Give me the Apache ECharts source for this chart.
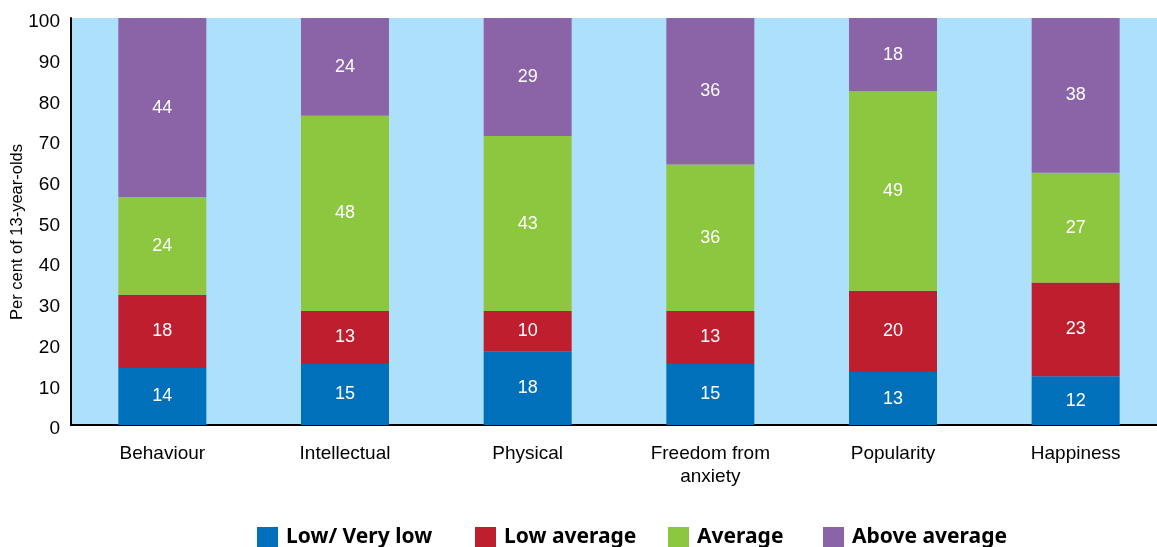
<!DOCTYPE html>
<html>
<head>
<meta charset="utf-8">
<script src="https://cdn.jsdelivr.net/npm/echarts@6/dist/echarts.min.js"></script>
<style>
  html, body { margin: 0; padding: 0; background: #fff; overflow: hidden; }
  /* plot runs a few pixels past the right edge of the picture */
  #box { width: 1167px; height: 547px; }
</style>
</head>
<body>
<div id="box"></div>
<script>
var categories = ['Behaviour', 'Intellectual', 'Physical', 'Freedom from\nanxiety', 'Popularity', 'Happiness']
var lowVeryLow = [14, 15, 18, 15, 13, 12]
var lowAverage = [18, 13, 10, 13, 20, 23]
var average = [24, 48, 43, 36, 49, 27]
var aboveAverage = [44, 24, 29, 36, 18, 38]
var seriesNames = ['Low/ Very low', 'Low average', 'Average', 'Above average']
var colors = ['#0070bb', '#be1e2d', '#8dc63f', '#8b64a8']

var chart = echarts.init(document.getElementById('box'))

function seg(i, data) {
    return {
        name: seriesNames[i],
        type: 'bar',
        stack: 'total',
        data: data,
        barWidth: 88,
        itemStyle: { color: colors[i] },
        label: {
            show: true,
            position: 'inside',
            color: '#fff',
            fontSize: 18,
            fontFamily: 'Liberation Sans'
        }
    }
}

// one legend per item so the gaps match the original
var legendLeft = [257, 475, 668, 823]
var legends = seriesNames.map(function (n, i) {
    return {
        left: legendLeft[i],
        top: 527,
        padding: 0,
        itemWidth: 21,
        itemHeight: 21,
        icon: 'rect',
        selectedMode: false,
        textStyle: {
            fontSize: 21,
            fontWeight: 'bold',
            fontFamily: 'Noto Sans',
            color: '#000',
            padding: [0, 0, 0, 3]
        },
        data: [n]
    }
})

var option = {
    animation: false,
    grid: {
        left: 71,
        right: 0,
        top: 18,
        bottom: 122,
        show: true,
        backgroundColor: '#ade1fb',
        borderWidth: 0
    },
    legend: legends,
    graphic: [{
        type: 'text',
        x: 17,
        y: 232,
        rotation: Math.PI / 2,
        style: {
            text: 'Per cent of 13-year-olds',
            fill: '#000',
            fontSize: 16.5,
            fontFamily: 'Liberation Sans',
            align: 'center',
            verticalAlign: 'middle'
        }
    }],
    xAxis: {
        type: 'category',
        data: categories,
        axisLine: { lineStyle: { color: '#000', width: 2 } },
        axisTick: { show: false },
        axisLabel: {
            color: '#000',
            fontSize: 19,
            fontFamily: 'Liberation Sans',
            margin: 17,
            lineHeight: 23,
            interval: 0
        }
    },
    yAxis: {
        type: 'value',
        min: 0,
        max: 100,
        interval: 10,
        axisLine: { show: true, lineStyle: { color: '#000', width: 2 } },
        axisTick: { show: false },
        splitLine: { show: false },
        axisLabel: {
            color: '#000',
            fontSize: 19,
            fontFamily: 'Liberation Sans',
            margin: 11,
            verticalAlign: 'top',
            lineHeight: 8
        }
    },
    series: [
        seg(0, lowVeryLow),
        seg(1, lowAverage),
        seg(2, average),
        seg(3, aboveAverage)
    ]
}

chart.setOption(option)
</script>
</body>
</html>
